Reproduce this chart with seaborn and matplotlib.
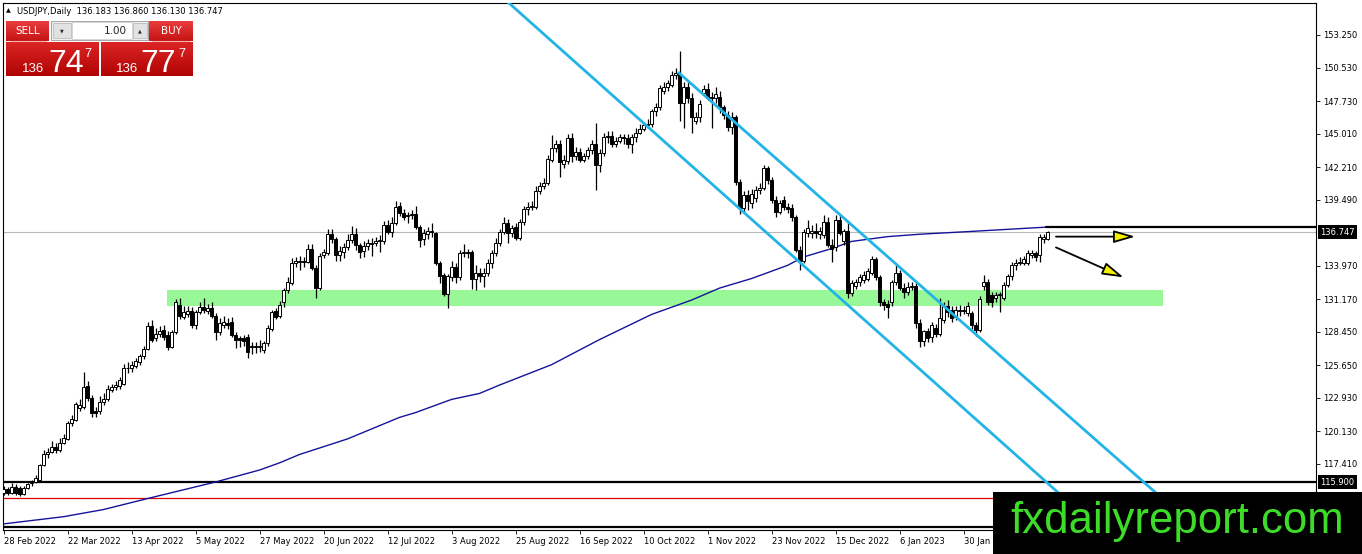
import numpy as np
import matplotlib
matplotlib.use('Agg')
import matplotlib.pyplot as plt
import matplotlib.transforms as mtrans
from matplotlib.patches import Rectangle
import seaborn as sns

# ---------------- data (USDJPY daily) ----------------
opens = [
115.0,115.3,115.0,115.5,115.4,114.9,115.4,115.8,115.9,116.1,
117.3,118.2,118.4,118.8,118.6,119.2,119.5,120.8,121.1,122.1,
122.2,123.9,122.9,121.8,121.8,122.6,122.8,123.6,123.8,123.9,
124.1,125.4,125.4,125.6,125.9,126.4,127.0,128.9,127.9,128.3,
128.6,128.2,127.2,128.4,130.7,129.7,129.9,130.2,129.0,130.1,
130.5,130.2,130.4,129.8,128.4,129.0,129.2,129.3,128.2,127.9,
127.9,128.0,127.2,127.3,127.2,126.9,127.5,128.7,130.2,129.8,
130.9,131.9,132.5,134.2,134.3,134.4,134.3,135.4,133.8,132.1,
134.9,135.0,136.6,136.2,134.9,135.1,135.5,136.1,136.6,135.7,
135.2,135.6,135.8,135.9,136.0,136.0,137.4,136.8,137.5,139.0,
138.4,138.1,138.2,138.3,137.2,136.2,136.6,136.9,136.7,134.2,
133.2,131.6,133.0,133.9,133.0,135.0,135.1,135.1,132.9,133.4,
133.1,133.4,134.2,135.0,135.9,136.8,137.5,136.7,137.2,136.3,
137.6,138.7,138.9,138.9,140.2,140.6,140.9,142.8,143.8,144.1,
142.5,142.7,144.6,143.1,143.5,142.8,143.1,143.6,144.1,142.4,
143.4,144.7,144.8,144.1,144.4,144.7,144.6,144.1,144.7,145.1,
145.4,145.7,145.8,146.9,147.2,148.6,148.9,149.1,149.9,150.0,
147.6,148.9,148.0,146.1,146.4,148.4,148.7,148.1,148.0,148.1,
147.2,146.6,145.6,146.4,141.0,138.8,139.9,139.2,139.6,140.3,
140.5,142.1,141.1,139.5,138.5,139.5,138.9,138.8,138.0,135.3,
134.4,136.7,136.7,136.9,136.6,136.5,137.6,135.7,135.5,137.8,
136.0,136.9,131.7,132.3,132.6,132.8,132.9,133.4,134.5,133.0,
130.9,130.8,130.9,132.6,133.4,132.1,131.8,132.2,132.3,129.2,
127.7,128.5,128.0,128.8,128.3,129.4,130.6,130.3,129.7,130.2,
130.3,130.0,130.0,129.0,128.6,132.3,132.6,131.5,131.3,131.5,
131.3,132.4,133.1,134.0,134.2,134.2,134.2,134.9,135.0,134.9,
136.2,136.183]
highs = [
115.6,115.5,115.8,115.7,115.6,115.6,115.8,116.1,116.5,117.4,
118.6,118.7,119.3,119.2,119.6,119.9,121.0,121.5,122.6,122.8,
125.1,124.3,123.2,122.2,123.1,123.3,124.0,124.1,124.3,124.7,
125.8,125.9,126.0,126.3,126.6,127.3,129.3,129.4,128.8,128.9,
129.0,128.5,128.6,131.2,131.3,130.6,130.6,130.5,130.3,130.9,
131.3,130.8,130.9,130.0,129.6,129.8,129.6,129.7,128.4,128.1,
128.2,128.3,127.6,127.6,127.8,127.7,129.0,130.3,130.4,131.0,
132.1,133.0,134.6,134.7,134.8,134.7,135.8,135.8,134.0,135.0,
135.4,137.0,137.0,136.4,135.6,135.9,136.6,137.3,137.1,135.9,
136.0,136.2,136.3,136.4,136.5,137.7,137.8,138.0,139.4,139.3,
138.7,138.5,138.6,139.0,137.4,137.0,137.2,137.5,136.8,134.4,
133.4,133.3,134.4,134.2,135.3,135.8,135.4,135.3,134.0,133.8,
133.8,134.5,135.3,136.3,137.0,138.0,137.9,137.4,137.5,137.9,
139.0,139.3,139.4,140.6,141.0,141.3,143.2,144.9,144.5,144.5,
143.2,145.0,145.1,143.9,143.8,143.4,143.9,144.5,145.9,143.7,
145.1,145.2,145.2,144.7,145.0,145.0,145.0,145.0,145.5,145.8,
146.0,146.2,147.1,147.6,149.1,149.3,149.5,150.2,150.5,151.9,
149.3,149.3,148.4,146.8,147.8,149.1,149.2,148.5,148.9,148.6,
147.4,146.9,146.8,146.6,141.2,140.2,140.3,140.4,140.6,140.9,
142.4,142.3,141.4,139.8,139.5,139.8,139.2,139.1,138.2,135.6,
137.0,137.8,137.4,137.5,137.2,138.2,138.0,136.2,138.2,138.1,
137.0,137.7,132.8,132.9,133.3,133.5,133.8,134.8,134.7,133.2,
131.2,131.1,132.8,134.0,133.6,132.5,132.6,132.6,132.5,129.5,
128.6,128.8,129.3,129.1,131.3,130.9,131.1,130.6,130.6,130.7,
130.6,130.9,130.2,129.3,131.4,133.2,132.9,131.8,131.8,131.8,
132.6,133.3,134.3,134.5,134.7,134.8,135.3,135.3,135.2,136.6,
136.6,136.86]
lows = [
114.8,114.8,114.9,114.8,114.7,114.8,115.3,115.6,115.8,116.0,
117.2,117.9,118.3,118.3,118.4,119.1,119.4,120.6,121.0,121.8,
122.0,122.7,121.3,121.3,121.6,122.3,122.7,123.4,123.6,123.7,
124.0,125.0,125.1,125.4,125.7,126.2,126.9,127.6,127.7,128.0,
127.8,126.9,127.1,128.3,129.5,129.5,129.7,128.8,128.7,129.9,
130.0,129.9,129.6,127.8,128.2,128.8,128.7,128.0,127.1,127.2,
127.3,126.3,126.6,126.7,126.8,126.7,127.3,128.5,129.5,129.6,
130.5,131.7,132.4,133.9,133.6,133.9,134.2,133.6,131.3,131.9,
134.6,134.9,135.9,134.4,134.4,134.6,135.3,135.9,135.3,134.6,
134.7,135.3,134.8,135.6,135.1,135.8,136.6,136.4,137.4,138.1,
137.8,137.5,137.9,137.0,135.5,135.7,136.2,136.4,134.0,132.5,
131.4,130.4,132.7,132.5,132.8,134.7,134.6,132.0,131.9,132.6,
132.2,133.1,133.8,134.8,135.6,136.6,135.9,136.4,136.1,136.1,
137.4,138.2,138.6,138.7,140.0,140.4,140.7,142.6,143.5,141.4,
142.1,142.5,142.6,142.8,142.6,142.6,142.9,143.3,140.3,141.8,
143.1,144.2,143.9,143.9,144.2,144.1,143.8,143.4,144.3,145.0,
145.2,145.5,145.6,146.5,147.0,148.3,148.6,148.9,149.6,146.1,
145.5,147.6,145.1,145.8,146.0,148.2,147.8,145.5,147.6,146.7,
146.2,145.2,145.0,140.7,138.3,138.5,138.6,138.8,139.3,140.0,
140.3,140.8,139.2,138.0,138.3,138.6,138.4,137.7,135.1,133.6,
134.2,136.4,136.3,136.3,136.2,136.3,135.5,134.3,135.2,136.5,
135.7,131.3,131.4,132.0,132.3,132.5,132.7,133.2,132.8,130.6,
130.3,129.6,130.6,132.4,131.9,131.3,131.5,131.9,128.8,127.2,
127.3,127.6,127.6,128.0,128.1,129.2,129.7,129.3,129.4,129.8,
129.9,129.8,128.7,128.1,128.4,131.9,130.7,130.5,130.9,130.1,
131.1,132.2,132.8,133.6,134.0,134.0,134.0,134.6,134.4,134.3,
135.9,136.13]
closes = [
115.3,115.0,115.5,115.0,114.9,115.4,115.7,115.9,116.2,117.3,
118.2,118.4,118.8,118.6,119.2,119.6,120.8,121.2,122.4,122.3,
123.8,122.9,121.7,121.7,122.6,122.8,123.7,123.8,124.0,124.4,
125.4,125.4,125.7,126.0,126.4,127.0,128.9,127.8,128.3,128.5,
128.0,127.2,128.4,130.9,129.8,130.1,130.2,129.0,130.1,130.5,
130.3,130.4,129.8,128.4,129.2,129.3,129.0,128.2,127.8,127.8,
127.7,126.8,127.3,127.2,127.3,127.5,128.8,130.1,129.7,130.7,
131.9,132.6,134.2,134.4,134.4,134.3,135.4,133.8,132.1,134.8,
135.1,136.6,136.2,134.9,135.2,135.5,136.1,136.6,135.7,135.1,
135.6,135.9,135.9,136.0,136.1,137.4,136.8,137.5,138.9,138.4,
138.0,138.2,138.3,137.2,136.1,136.7,136.9,136.8,134.2,133.1,
131.6,133.1,133.9,133.0,135.0,135.1,135.0,132.9,133.4,133.1,
133.4,134.2,135.0,135.9,136.8,137.5,136.7,137.1,136.3,137.6,
138.7,138.9,139.0,140.2,140.6,140.9,142.9,143.8,144.1,142.6,
142.8,144.6,143.1,143.5,142.8,143.1,143.6,144.1,142.4,143.4,
144.7,144.8,144.1,144.4,144.7,144.6,144.1,144.7,145.1,145.4,
145.7,145.8,146.9,147.2,148.8,148.9,149.2,149.9,150.1,147.6,
148.9,148.0,146.4,146.4,147.5,148.7,148.0,148.0,148.3,147.2,
146.6,145.6,146.4,141.0,138.8,139.9,139.4,140.0,140.3,140.5,
142.1,141.1,139.5,138.5,139.2,138.9,138.7,138.0,135.3,134.4,
136.8,137.1,136.9,136.7,136.9,137.6,135.7,135.4,137.8,136.7,
136.9,131.7,132.5,132.6,133.0,133.2,133.5,134.5,133.0,130.9,
130.7,130.5,132.6,133.4,132.1,131.8,132.2,132.3,129.2,127.7,
128.5,127.9,129.0,128.3,129.6,130.6,130.1,129.6,130.3,130.3,
130.2,130.6,129.0,128.6,131.2,132.6,130.9,130.9,131.5,131.6,
132.4,133.1,134.0,134.2,134.3,134.5,135.0,135.0,134.7,136.4,
136.4,136.747]

# moving average (read at selected bars)
ma_bars = [0, 15, 25, 37, 53, 64, 69, 74, 86, 99, 103, 112, 119, 124, 137, 149,
           162, 172, 179, 187, 196, 200, 207, 212, 221, 229, 240, 261]
ma_values = [112.4, 113.0, 113.6, 114.6, 115.9, 116.9, 117.5, 118.2, 119.5, 121.3,
             121.7, 122.8, 123.3, 124.0, 125.7, 127.8, 129.9, 131.1, 132.1, 132.9,
             134.0, 134.7, 135.4, 136.0, 136.4, 136.6, 136.8, 137.2]

date_positions = [0, 16, 32, 48, 64, 80, 96, 112, 128, 144, 160, 176, 192, 208, 224, 240]
date_labels = ['28 Feb 2022', '22 Mar 2022', '13 Apr 2022', '5 May 2022', '27 May 2022',
               '20 Jun 2022', '12 Jul 2022', '3 Aug 2022', '25 Aug 2022', '16 Sep 2022',
               '10 Oct 2022', '1 Nov 2022', '23 Nov 2022', '15 Dec 2022', '6 Jan 2023',
               '30 Jan 2023']
price_ticks = [153.25, 150.53, 147.73, 145.01, 142.21, 139.49, 133.97, 131.17,
               128.45, 125.65, 122.93, 120.13, 117.41]

current_price = 136.747
support_level = 115.90
red_level = 114.57
bottom_level = 112.10
resistance_level = 137.20
resistance_start = 260.5
zone_x = [40.9, 289.9]
zone_price = [130.6, 131.9]
channel_lower_x = [125.4, 274.1]
channel_lower_y = [156.2, 111.9]
channel_upper_x = [168.6, 298.6]
channel_upper_y = [150.15, 111.9]
arrow_flat = [(263.1, 136.4), (282.9, 136.4)]
arrow_down = [(263.1, 135.5), (280.0, 133.0)]

# ---------------- style ----------------
sns.set_style('white')
plt.rcParams['font.family'] = ['DejaVu Sans']

W, H = 1362, 554
fig = plt.figure(figsize=(W / 100, H / 100), dpi=100)
fig.patch.set_facecolor('white')
ax = fig.add_axes([3 / W, 24 / H, 1313 / W, 527 / H])
ax.set_facecolor('white')

o = np.array(opens); h = np.array(highs); l = np.array(lows); c = np.array(closes)
idx = np.arange(len(c))

# zone
ax.add_patch(Rectangle((zone_x[0], zone_price[0]), zone_x[1] - zone_x[0],
                       zone_price[1] - zone_price[0], facecolor='#98f898',
                       edgecolor='none', zorder=1))
# horizontal lines
ax.axhline(current_price, color='#b8b8b8', lw=0.8, zorder=1.5)
ax.axhline(support_level, color='black', lw=1.6, zorder=2)
ax.axhline(bottom_level, color='black', lw=1.6, zorder=2)
ax.axhline(red_level, color='#e00000', lw=0.9, zorder=2)

# moving average
sns.lineplot(x=ma_bars, y=ma_values, ax=ax, color='#14149a', lw=1.0, zorder=2.5)

# candles
ax.vlines(idx, l, h, color='black', lw=0.9, zorder=3)
bottoms = np.minimum(o, c)
heights = np.maximum(np.abs(c - o), 0.05)
colors = ['white' if cc >= oo else 'black' for oo, cc in zip(o, c)]
ax.bar(idx, heights, bottom=bottoms, width=0.7, color=colors,
       edgecolor='black', linewidth=0.7, zorder=4)

# channel
ax.plot(channel_lower_x, channel_lower_y, color='#22b4e6', lw=2.0, zorder=5,
        solid_capstyle='butt')
ax.plot(channel_upper_x, channel_upper_y, color='#22b4e6', lw=2.0, zorder=5,
        solid_capstyle='butt')

# resistance
ax.plot([resistance_start, 400], [resistance_level, resistance_level], color='black',
        lw=1.6, zorder=5)

# arrows
for (p0, p1) in (arrow_flat, arrow_down):
    ax.annotate('', xy=p1, xytext=p0, annotation_clip=False,
                arrowprops=dict(arrowstyle='-|>,head_length=1.3,head_width=0.38',
                                mutation_scale=10, fc='#f2f200', ec='black', lw=1.3,
                                shrinkA=0, shrinkB=0), zorder=6)

ax.set_xlim(-0.125, 328.1)
ax.set_ylim(111.89, 155.92)

# axes / ticks
ax.yaxis.tick_right()
ax.set_yticks(price_ticks)
ax.set_yticklabels([f'{v:.3f}' for v in price_ticks])
ax.set_xticks(date_positions)
ax.set_xticklabels(date_labels, ha='left')
ax.tick_params(axis='y', right=True, left=False, length=3, width=0.6, pad=2,
               labelsize=6, colors='black')
ax.tick_params(axis='x', bottom=True, length=3, width=0.6, pad=2, labelsize=6,
               colors='black')
ax.grid(False)
for s in ax.spines.values():
    s.set_color('black')
    s.set_linewidth(0.8)
ax.set_xlabel('')
ax.set_ylabel('')

trans = mtrans.blended_transform_factory(ax.transAxes, ax.transData)
for val in (current_price, support_level):
    ax.text(1.0 + 4 / 1313, val, f'{val:.3f}', transform=trans, ha='left', va='center',
            color='white', fontsize=6, zorder=10, clip_on=False,
            bbox=dict(boxstyle='square,pad=0.3', fc='black', ec='none'))

# ---------------- overlay (pixel coordinates) ----------------
ov = fig.add_axes([0, 0, 1, 1], zorder=10)
ov.set_axis_off()
ov.patch.set_alpha(0)


def grad_box(x0, y0, x1, y1, ctop, cbot, z=11):
    t = np.linspace(0, 1, 64)[:, None]
    a = np.array(matplotlib.colors.to_rgb(ctop)); b = np.array(matplotlib.colors.to_rgb(cbot))
    img = (a[None, None, :] * (1 - t[:, :, None]) + b[None, None, :] * t[:, :, None])
    ov.imshow(img, extent=(x0, x1, y1, y0), origin='upper', aspect='auto',
              interpolation='bilinear', zorder=z)


ov.text(6, 11, '\u25b2', fontsize=4.5, va='center', ha='left', color='black')
ov.text(17, 11, 'USDJPY,Daily  136.183 136.860 136.130 136.747', fontsize=6,
        va='center', ha='left', color='black')

# sell / buy buttons
grad_box(6, 21, 49, 41, '#ea3c3c', '#c41414')
grad_box(149, 21, 193, 41, '#ea3c3c', '#c41414')
ov.plot([10, 46], [40.5, 40.5], color='#f6b0b0', lw=0.8, zorder=12)
ov.plot([152, 190], [40.5, 40.5], color='#f6b0b0', lw=0.8, zorder=12)
ov.text(27.5, 30.5, 'SELL', color='white', fontsize=7.5, ha='center', va='center', zorder=13)
ov.text(171, 30.5, 'BUY', color='white', fontsize=7.5, ha='center', va='center', zorder=13)
# spinner
ov.add_patch(Rectangle((51, 21), 97, 19, fc='#f0f0f0', ec='#9a9a9a', lw=0.6, zorder=11))
ov.add_patch(Rectangle((53, 23), 18, 15, fc='#e2e2e2', ec='#b4b4b4', lw=0.5, zorder=12))
ov.add_patch(Rectangle((72, 22), 60, 17, fc='white', ec='#c8c8c8', lw=0.5, zorder=12))
ov.add_patch(Rectangle((133, 23), 14, 15, fc='#e2e2e2', ec='#b4b4b4', lw=0.5, zorder=12))
ov.text(62, 30.5, '\u25bc', fontsize=3.5, ha='center', va='center', zorder=13)
ov.text(140, 30.5, '\u25b2', fontsize=3.5, ha='center', va='center', zorder=13)
ov.text(127, 30.5, '1.00', fontsize=7.5, ha='right', va='center', zorder=13)
# price boxes
grad_box(6, 42, 99, 76, '#dc2424', '#b00404')
grad_box(101, 42, 193, 76, '#dc2424', '#b00404')
ov.text(33, 71.5, '136', color='white', fontsize=9.5, ha='center', va='baseline', zorder=13,
        family=['Liberation Sans'])
ov.text(48, 71.5, '74', color='white', fontsize=23, ha='left', va='baseline', zorder=13,
        family=['Liberation Sans'])
ov.text(84, 57, '7', color='white', fontsize=9, ha='left', va='baseline', zorder=13,
        family=['Liberation Sans'])
ov.text(127, 71.5, '136', color='white', fontsize=9.5, ha='center', va='baseline', zorder=13,
        family=['Liberation Sans'])
ov.text(140, 71.5, '77', color='white', fontsize=23, ha='left', va='baseline', zorder=13,
        family=['Liberation Sans'])
ov.text(178, 57, '7', color='white', fontsize=9, ha='left', va='baseline', zorder=13,
        family=['Liberation Sans'])

# watermark
ov.add_patch(Rectangle((993, 492), 369, 62, fc='black', ec='none', zorder=14))
ov.text(1177, 521, 'fxdailyreport.com', color='#3ddc28', fontsize=31.5, ha='center',
        va='center', zorder=15, family=['Liberation Sans'])

ov.set_xlim(0, W)
ov.set_ylim(H, 0)

fig.savefig('out.png', dpi=100)
